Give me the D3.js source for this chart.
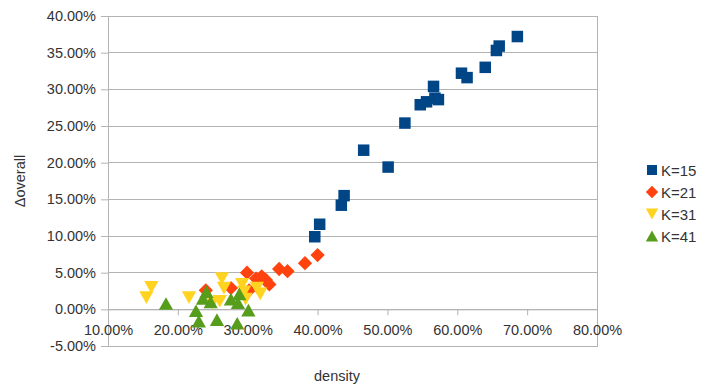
<!DOCTYPE html>
<html><head><meta charset="utf-8">
<script src="https://cdn.jsdelivr.net/npm/d3@7"></script>
<style>body{margin:0;background:#fff}svg{display:block}</style>
</head><body>
<script>
const seriesNames = ["K=15","K=21","K=31","K=41"];
const seriesColors = ["#004586","#ff420e","#ffd320","#579d1c"];
const seriesSymbols = ["square","diamond","down","up"];
// density (%), Δoverall (%)
const k15 = [[39.6,9.9],[40.3,11.6],[43.4,14.2],[43.8,15.5],[46.6,21.7],[50.1,19.4],[52.5,25.4],[54.7,27.9],[55.6,28.3],[56.6,30.4],[56.8,28.8],[57.3,28.6],[60.6,32.2],[61.4,31.6],[64.0,33.0],[65.6,35.3],[66.0,35.9],[68.6,37.2]];
const k21 = [[24.0,2.6],[27.6,2.9],[29.9,5.0],[30.2,2.6],[31.2,4.2],[32.0,4.5],[32.6,4.0],[33.1,3.4],[34.5,5.5],[35.7,5.2],[38.2,6.3],[40.0,7.4]];
const k31 = [[15.5,1.6],[16.2,3.0],[21.6,1.6],[25.0,0.9],[26.0,1.1],[26.3,4.2],[26.6,2.9],[29.2,3.4],[29.5,2.4],[29.7,1.4],[31.3,2.9],[31.8,2.1]];
const k41 = [[18.3,0.8],[22.6,-0.2],[23.0,-1.6],[23.6,1.5],[24.1,2.4],[24.7,1.0],[25.6,-1.4],[27.6,1.4],[28.5,-1.9],[28.8,2.1],[28.6,0.9],[30.1,-0.1]];
const seriesData = [k15,k21,k31,k41];
const xTicks = [10,20,30,40,50,60,70,80];
const yTicks = [-5,0,5,10,15,20,25,30,35,40];
const xTitle = "density", yTitle = "Δoverall";

const W=702,H=387;
const svg=d3.select("body").append("svg").attr("width",W).attr("height",H)
  .style("font-family","'Liberation Sans',Arial,sans-serif");
const x=d3.scaleLinear().domain([10,80]).range([108,597]);
const y=d3.scaleLinear().domain([-5,40]).range([346,16]);
const grid="#b3b3b3", txt="#333";
const fmt=v=>v.toFixed(2)+"%";

// gridlines
svg.append("g").selectAll("line").data(yTicks).join("line")
  .attr("x1",x(10)).attr("x2",x(80)).attr("y1",d=>y(d)).attr("y2",d=>y(d))
  .attr("stroke",grid).attr("stroke-width",1).attr("shape-rendering","crispEdges");
// plot frame
svg.append("rect").attr("x",x(10)).attr("y",y(40)).attr("width",x(80)-x(10)).attr("height",y(-5)-y(40))
  .attr("fill","none").attr("stroke",grid).attr("shape-rendering","crispEdges");

// y axis
const yAxis=d3.axisLeft(y).tickValues(yTicks).tickFormat(fmt).tickSize(7).tickPadding(5);
const gy=svg.append("g").attr("transform",`translate(${x(10)},0)`).call(yAxis);
gy.select(".domain").attr("stroke",grid);
gy.selectAll(".tick line").attr("stroke",grid);
gy.selectAll(".tick text").attr("fill",txt).style("font-size","14.5px");

// x axis at y=0
const xAxis=d3.axisBottom(x).tickValues(xTicks).tickFormat(fmt).tickSize(6).tickPadding(9);
const gx=svg.append("g").attr("transform",`translate(0,${y(0)})`).call(xAxis);
gx.select(".domain").attr("stroke",grid);
gx.selectAll(".tick line").attr("stroke",grid);
gx.selectAll(".tick text").attr("fill",txt).style("font-size","14.5px");

// symbols
function symPath(type,s){
  if(type==="square") return `M${-s/2},${-s/2}h${s}v${s}h${-s}Z`;
  if(type==="diamond"){const r=s*0.62;return `M0,${-r}L${r},0L0,${r}L${-r},0Z`;}
  const w=s*0.62,h=s*0.55;
  if(type==="down") return `M${-w},${-h}L${w},${-h}L0,${h}Z`;
  return `M0,${-h}L${w},${h}L${-w},${h}Z`;
}
seriesData.forEach((data,i)=>{
  svg.append("g").selectAll("path").data(data).join("path")
    .attr("transform",d=>`translate(${x(d[0])},${y(d[1])})`)
    .attr("d",symPath(seriesSymbols[i],11.5))
    .attr("fill",seriesColors[i]);
});

// titles
svg.append("text").attr("x",337).attr("y",381).attr("text-anchor","middle")
  .attr("fill",txt).style("font-size","14.5px").text(xTitle);
svg.append("text").attr("transform","translate(25,181) rotate(-90)").attr("text-anchor","middle")
  .attr("fill",txt).style("font-size","14.5px").text(yTitle);

// legend
const lg=svg.append("g").attr("transform","translate(652,170)");
seriesNames.forEach((n,i)=>{
  const g=lg.append("g").attr("transform",`translate(0,${i*22})`);
  g.append("path").attr("d",symPath(seriesSymbols[i],10)).attr("fill",seriesColors[i]);
  g.append("text").attr("x",9).attr("y",5.5).attr("fill",txt).style("font-size","15px").text(n);
});
</script>
</body></html>
